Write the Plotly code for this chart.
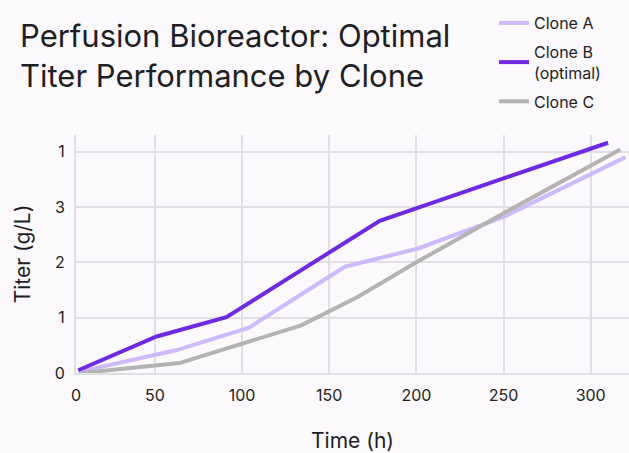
import plotly.graph_objects as go

# ---- data ----
time_a = [6, 62, 104, 159, 201, 250, 320]
titer_a = [0.02, 0.41, 0.82, 1.92, 2.25, 2.82, 3.90]

time_b = [6, 51, 91, 179, 230, 310]
titer_b = [0.05, 0.66, 1.01, 2.75, 3.30, 4.16]

time_c = [8, 64, 134, 166, 200, 248, 317]
titer_c = [0.0, 0.18, 0.86, 1.37, 2.0, 2.85, 4.04]

x_tickvals = [4.7, 50, 100, 150, 200, 250, 300]
x_ticktext = ["0", "50", "100", "150", "200", "250", "300"]
y_tickvals = [0, 1, 2, 3, 4]
y_ticktext = ["0", "1", "2", "3", "1"]

names = ["Clone A", "Clone B<br>(optimal)", "Clone C"]
colors = ["#cdb9fc", "#6d2ae0", "#b3b3b3"]

FONT = "Inter, Roboto, sans-serif"
BG = "#fbf9fc"
GRID = "#e2dfe4"

ML, MR, MT, MB = 76, 0, 135, 80
W, H = 629, 453
PW, PH = W - ML - MR, H - MT - MB

fig = go.Figure()
for i, (xs, ys) in enumerate([(time_a, titer_a), (time_b, titer_b), (time_c, titer_c)]):
    fig.add_trace(go.Scatter(
        x=xs, y=ys, mode="lines", name=names[i],
        line=dict(color=colors[i], width=4),
        legendgroup=f"g{i}",
    ))

fig.update_layout(
    width=W, height=H,
    margin=dict(l=ML, r=MR, t=MT, b=MB, autoexpand=False),
    paper_bgcolor=BG, plot_bgcolor=BG,
    font=dict(family=FONT, color="#222222"),
    title=dict(
        text="Perfusion Bioreactor: Optimal<br>Titer Performance by Clone",
        x=20 / W, xanchor="left", xref="container",
        y=1 - 47 / H, yanchor="top", yref="container",
        font=dict(size=31, color="#1e1e24", family=FONT),
    ),
    legend=dict(
        x=(494 - ML) / PW, xanchor="left", xref="paper",
        y=1 + (MT - 6) / PH, yanchor="top", yref="paper",
        font=dict(size=16, color="#222222", family=FONT),
        traceorder="grouped", tracegroupgap=5,
        bgcolor="rgba(0,0,0,0)",
    ),
    xaxis=dict(
        range=[4.7, 322], tickvals=x_tickvals, ticktext=x_ticktext,
        showgrid=True, gridcolor=GRID, gridwidth=2,
        showline=True, linecolor=GRID, linewidth=2,
        zeroline=False,
        ticks="outside", ticklen=7, tickcolor=BG,
        tickfont=dict(size=16, color="#222222"),
        title=dict(text="Time (h)", font=dict(size=21, color="#1e1e24"), standoff=30),
    ),
    yaxis=dict(
        range=[0, 4.3], tickvals=y_tickvals, ticktext=y_ticktext,
        showgrid=True, gridcolor=GRID, gridwidth=2,
        showline=True, linecolor=GRID, linewidth=2,
        zeroline=False,
        ticks="outside", ticklen=6, tickcolor=BG,
        tickfont=dict(size=16, color="#222222"),
        title=dict(text="Titer (g/L)", font=dict(size=21, color="#1e1e24"), standoff=18),
    ),
)

fig.write_html("out.html")
